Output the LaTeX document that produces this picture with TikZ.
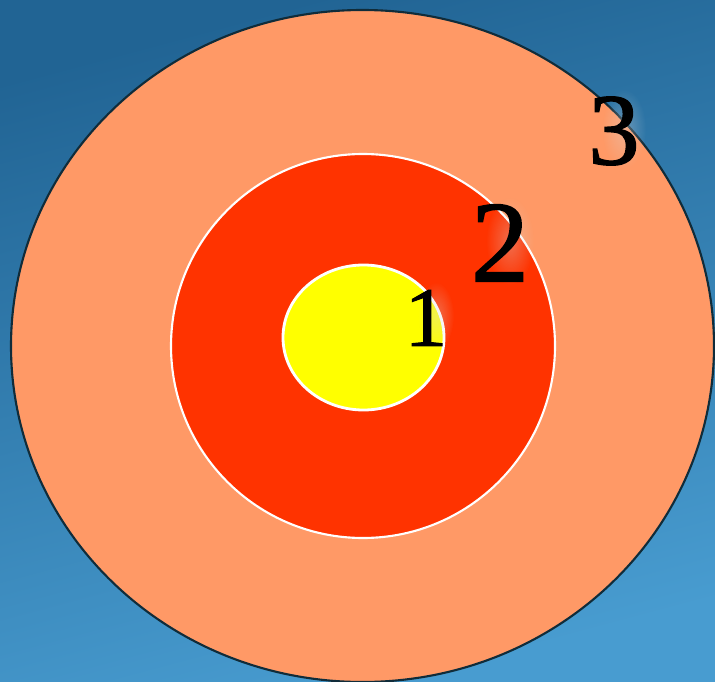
\documentclass[tikz,border=0pt]{standalone}
\usepackage{fontspec}
\setmainfont{Liberation Serif}
\usepackage{tikz}
\usetikzlibrary{shadings,fadings}
\usepackage{xcolor}
\definecolor{bgtop}{RGB}{33,100,148}
\definecolor{bgbot}{RGB}{72,156,208}
\definecolor{ringthree}{RGB}{255,153,102}
\definecolor{ringtwo}{RGB}{255,51,0}
\definecolor{ringone}{RGB}{255,255,0}
\definecolor{rimdark}{RGB}{16,44,58}
\newcommand{\digitsize}[1]{\font\digitf="Liberation Serif:embolden=1.4" at #1pt\digitf}
\tikzfading[name=softglow, inner color=transparent!40, outer color=transparent!100]

\begin{document}
\begin{tikzpicture}[x=0.01cm, y=-0.01cm,
  ringlabel/.style={inner sep=0pt, font=\digitsize{#1}},
  glow/.style={gray!30!white, path fading=softglow, opacity=0.6}]
  % background
  \shade[top color=bgtop, bottom color=bgbot, shading angle=15] (0,0) rectangle (715,682);
  \useasboundingbox (0,0) rectangle (715,682);
  % rings
  \draw[rimdark, fill=ringthree, line width=0.6pt] (362.5,346) ellipse[x radius=351.5, y radius=336];
  \draw[white, fill=ringtwo, line width=0.6pt] (363,346) circle[radius=192];
  \draw[white, fill=ringone, line width=0.8pt] (363.5,337.5) ellipse[x radius=80.5, y radius=72.5];
  % soft glow behind the digits
  \fill[glow] (436,316) ellipse[x radius=18, y radius=34];
  \fill[glow] (510,241) ellipse[x radius=24, y radius=44];
  \fill[glow] (624,129) ellipse[x radius=22, y radius=40];
  % labels
  \node[ringlabel=24] (lab1) at (426,318) {1};
  \node[ringlabel=33] (lab2) at (500,243) {2};
  \node[ringlabel=29] (lab3) at (614,131) {3};
\end{tikzpicture}
\end{document}
